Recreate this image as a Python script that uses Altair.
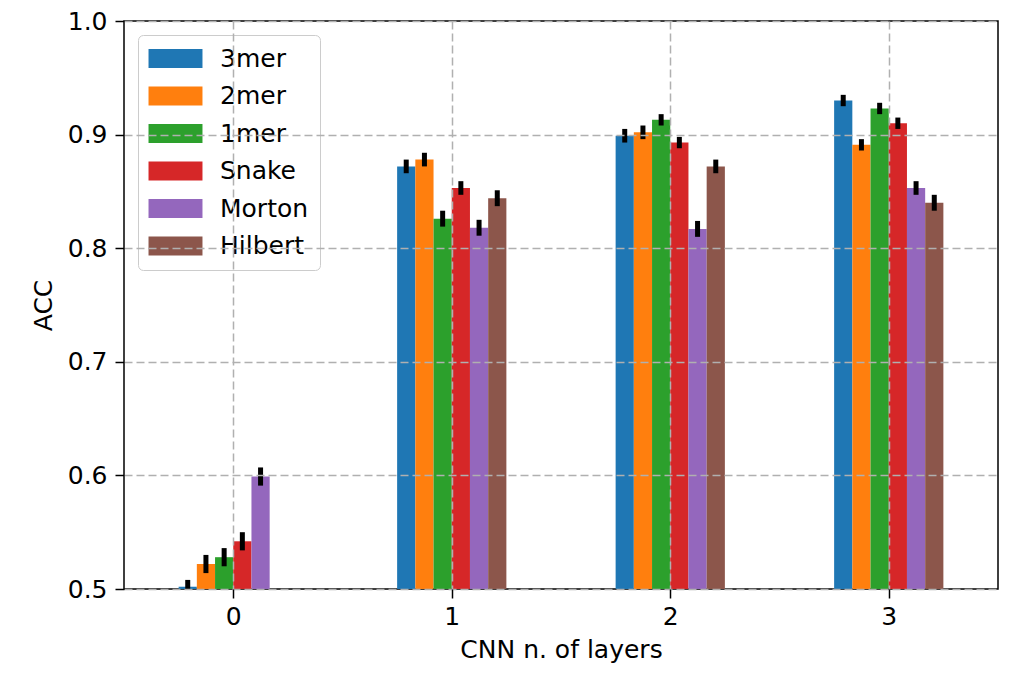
import altair as alt
import pandas as pd

layers = [0, 1, 2, 3]
methods = ["3mer", "2mer", "1mer", "Snake", "Morton", "Hilbert"]
colors = ["#1f77b4", "#ff7f0e", "#2ca02c", "#d62728", "#9467bd", "#8c564b"]

acc = {
    "3mer":    [0.502, 0.872, 0.899, 0.930],
    "2mer":    [0.522, 0.878, 0.902, 0.891],
    "1mer":    [0.528, 0.826, 0.913, 0.923],
    "Snake":   [0.542, 0.853, 0.893, 0.910],
    "Morton":  [0.599, 0.818, 0.817, 0.853],
    "Hilbert": [0.480, 0.844, 0.872, 0.840],
}
err = {
    "3mer":    [0.006, 0.006, 0.006, 0.005],
    "2mer":    [0.008, 0.006, 0.006, 0.005],
    "1mer":    [0.008, 0.007, 0.005, 0.005],
    "Snake":   [0.008, 0.006, 0.005, 0.005],
    "Morton":  [0.008, 0.007, 0.007, 0.006],
    "Hilbert": [0.006, 0.007, 0.006, 0.007],
}

bar_w = 1.0 / 12
rows = []
for i, m in enumerate(methods):
    for j, L in enumerate(layers):
        pos = L + (i - 2.5) * bar_w
        rows.append({
            "method": m,
            "order": i,
            "pos": pos,
            "left": pos - bar_w / 2,
            "right": pos + bar_w / 2,
            "acc": acc[m][j],
            "lo": acc[m][j] - err[m][j],
            "hi": acc[m][j] + err[m][j],
        })
df = pd.DataFrame(rows)

FONT = "DejaVu Sans"
FS = 25

xscale = alt.Scale(domain=[-0.5, 3.5], nice=False, zero=False)
yscale = alt.Scale(domain=[0.5, 1.0], nice=False, zero=False)

xaxis = alt.Axis(
    values=layers, format="d", title="CNN n. of layers",
    grid=True, gridDash=[8, 4], gridColor="#b0b0b0", gridWidth=1.5,
    tickColor="black", tickSize=9, tickWidth=1.5, labelPadding=6,
    labelFont=FONT, labelFontSize=FS, labelColor="black",
    titleFont=FONT, titleFontSize=FS, titleFontWeight="normal", titleColor="black",
    titlePadding=8, domain=False, zindex=1,
)
yaxis = alt.Axis(
    values=[0.5, 0.6, 0.7, 0.8, 0.9, 1.0], format=".1f", title="ACC",
    grid=True, gridDash=[8, 4], gridColor="#b0b0b0", gridWidth=1.5,
    tickColor="black", tickSize=9, tickWidth=1.5, labelPadding=8,
    labelFont=FONT, labelFontSize=FS, labelColor="black",
    titleFont=FONT, titleFontSize=FS, titleFontWeight="normal", titleColor="black",
    titlePadding=11, domain=False, zindex=1,
)

legend = alt.Legend(
    title=None, orient="none", legendX=14, legendY=14,
    symbolType="M-2.84,-1H2.84V1H-2.84Z", symbolSize=361,
    symbolStrokeWidth=0, symbolOpacity=1,
    labelFont=FONT, labelFontSize=FS, labelColor="black",
    symbolOffset=14, labelOffset=32, rowPadding=11.5,
    padding=11, strokeColor="#cccccc", fillColor="rgba(255,255,255,0.8)",
    cornerRadius=5,
)

bars = alt.Chart(df).mark_bar(clip=True).encode(
    x=alt.X("left:Q", scale=xscale, axis=xaxis),
    x2="right:Q",
    y=alt.Y("acc:Q", scale=yscale, axis=yaxis),
    y2=alt.datum(0.5),
    color=alt.Color("method:N", sort=methods,
                    scale=alt.Scale(domain=methods, range=colors), legend=legend),
)

errbars = alt.Chart(df).mark_rule(clip=True, color="black", strokeWidth=5).encode(
    x=alt.X("pos:Q", scale=xscale),
    y=alt.Y("lo:Q", scale=yscale),
    y2="hi:Q",
)

chart = alt.layer(bars, errbars).properties(
    width=874, height=568,
    autosize=alt.AutoSizeParams(type="none"),
    padding={"left": 124, "top": 21, "right": 14, "bottom": 89},
    background="white",
).configure_view(stroke="black", strokeWidth=1.5)

chart.save("out.html", embed_options={"renderer": "svg", "actions": False})
